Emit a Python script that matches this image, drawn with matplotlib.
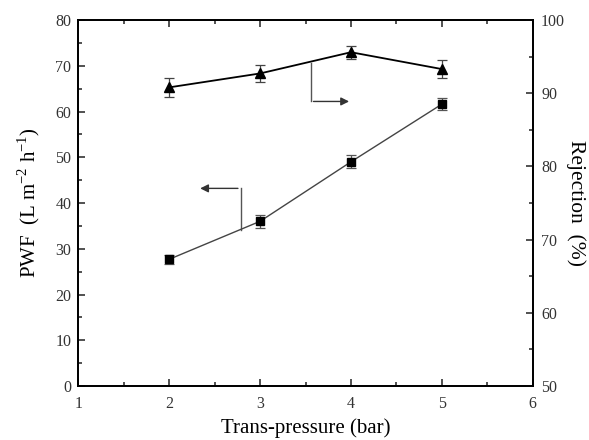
import numpy as np
import matplotlib
matplotlib.use("Agg")
from matplotlib import pyplot as plt

plt.rcParams['font.family'] = ['Liberation Serif', 'DejaVu Serif']
plt.rcParams['mathtext.fontset'] = 'custom'
plt.rcParams['mathtext.rm'] = 'Liberation Serif'

# data
pressure = [2, 3, 4, 5]
pwf = [27.7, 36.0, 49.0, 61.6]
pwf_err = [1.0, 1.4, 1.4, 1.3]
rejection = [90.8, 92.7, 95.6, 93.3]
rejection_err = [1.3, 1.1, 0.9, 1.2]

fig = plt.figure(figsize=(5.89, 4.40), dpi=100)
ax = fig.add_axes([0.133, 0.1227, 0.7714, 0.8318])
ax2 = ax.twinx()

ax.errorbar(pressure, pwf, yerr=pwf_err, color='#444444', lw=1.0,
            marker='s', ms=6, mfc='black', mec='black',
            ecolor='#555555', elinewidth=0.9, capsize=3.5, capthick=0.9)
ax2.errorbar(pressure, rejection, yerr=rejection_err, color='black', lw=1.3,
             marker='^', ms=7.5, mfc='black', mec='black',
             ecolor='#444444', elinewidth=0.9, capsize=3.5, capthick=0.9)

ax.set_xlim(1, 6)
ax.set_ylim(0, 80)
ax2.set_ylim(50, 100)
ax.set_xticks(np.arange(1, 7, 1))
ax.set_xticks(np.arange(1.5, 6, 1), minor=True)
ax.set_yticks(np.arange(0, 81, 10))
ax.set_yticks(np.arange(5, 80, 10), minor=True)
ax2.set_yticks(np.arange(50, 101, 10))
ax2.set_yticks(np.arange(55, 100, 10), minor=True)

ax.tick_params(which='both', direction='in', top=True, labelsize=11.5,
               colors='#333333', width=1.2)
ax.tick_params(axis='x', pad=7)
ax.tick_params(axis='y', pad=5)
ax.tick_params(which='major', length=5)
ax.tick_params(which='minor', length=3)
ax2.tick_params(which='both', direction='in', labelsize=11.5,
                colors='#333333', width=1.2, pad=6)
ax2.tick_params(which='major', length=5)
ax2.tick_params(which='minor', length=3)
for a in (ax, ax2):
    for s in a.spines.values():
        s.set_linewidth(1.3)

ax.set_xlabel('Trans-pressure (bar)', fontsize=15, labelpad=5)
ax.set_ylabel('PWF  (L m$^{\\mathregular{-2}}$ h$^{\\mathregular{-1}}$)',
              fontsize=15, labelpad=10)
ax2.set_ylabel('Rejection  (%)', fontsize=15.5, rotation=270, labelpad=15)

# arrows telling which axis each curve uses
ax.plot([2.787, 2.787], [34.2, 43.2], color='#555555', lw=1)
ax.annotate('', xy=(2.31, 43.2), xytext=(2.787, 43.2),
            arrowprops=dict(arrowstyle='-|>', color='#333333', lw=1,
                            mutation_scale=12))
ax.plot([3.557, 3.557], [62.2, 70.7], color='#555555', lw=1)
ax.annotate('', xy=(4.01, 62.2), xytext=(3.557, 62.2),
            arrowprops=dict(arrowstyle='-|>', color='#333333', lw=1,
                            mutation_scale=12))

fig.savefig('out.png', dpi=100)
